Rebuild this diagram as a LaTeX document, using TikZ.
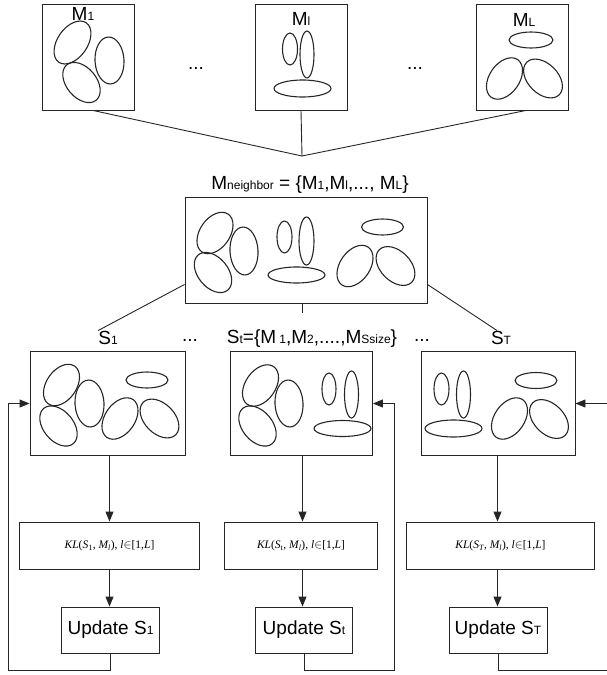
\documentclass[tikz,border=0pt]{standalone}
\usepackage{fontspec}
\setmainfont{Liberation Sans}
\newfontfamily\klfont{Liberation Serif}
\usetikzlibrary{arrows.meta,calc}
\newcommand{\sbs}[1]{{\fontsize{12}{12}\selectfont #1}}
\newcommand{\myell}[4]{\draw[ell] (#1) ellipse[x radius=#2pt, y radius=#3pt, rotate=#4];}
\newcommand{\kltext}[1]{{\itshape KL}({\itshape S}\textsubscript{#1}, {\itshape M}\textsubscript{\itshape l}), {\itshape l}$\in$[1,{\itshape L}]}
\begin{document}
\begin{tikzpicture}[x=1pt,y=-1pt,
  box/.style={draw=black!85, line width=0.9pt, inner sep=0pt},
  ell/.style={draw=black!85, line width=1.1pt},
  lbl/.style={font=\fontsize{19}{19}\selectfont, inner sep=0pt},
  conn/.style={draw=black!85, line width=0.9pt},
  arr/.style={conn, -{Triangle[length=10pt,width=8pt]}},
  kl/.style={box, font=\klfont\fontsize{11.5}{12}\selectfont},
  upd/.style={box, font=\fontsize{19}{19}\selectfont},
]
\useasboundingbox (0,0) rectangle (607,675);

% top model boxes
\node[box, minimum width=92pt, minimum height=106pt] (m1) at (88,57) {};
\node[box, minimum width=92pt, minimum height=106pt] (ml) at (301,57) {};
\node[box, minimum width=92pt, minimum height=106pt] (mL) at (522,57) {};
\node[lbl, anchor=base] (m1lab) at (83,20) {M\sbs{1}};
\node[lbl, anchor=base] (mllab) at (301,25) {M\sbs{l}};
\node[lbl, anchor=base] (mLlab) at (524,26) {M\sbs{L}};
\node[lbl] (dots1) at (196,68) {...};
\node[lbl] (dots2) at (415,68) {...};

\myell{72.5,42.5}{24}{15}{55}
\myell{81.5,82.5}{23}{15}{-50}
\myell{109.5,60.5}{23.5}{14.5}{93}
\myell{290,49}{16}{7.5}{90}
\myell{307,54.5}{23.5}{7}{90}
\myell{302.5,88.5}{28.5}{8.5}{0}
\myell{531,40}{22}{8}{0}
\myell{504.5,78.5}{23}{15}{55}
\myell{543,78.5}{23}{15}{-45}

\coordinate (join) at (302,156);
\draw[conn] ($(m1.south)+(5,0)$) -- (join);
\draw[conn] (ml.south) -- (join);
\draw[conn] ($(mL.south)+(4,0)$) -- (join);

% neighbor set
\node[lbl, anchor=base] (nblab) at (310,189) {M\sbs{neighbor} = \{M\sbs{1},M\sbs{l},..., M\sbs{L}\}};
\node[box, minimum width=242pt, minimum height=106pt] (nb) at (306,250) {};
\myell{215,233}{23}{15}{55}
\myell{213,272.5}{23}{15}{-50}
\myell{244,251}{24}{14}{93}
\myell{284.5,237}{16}{7.5}{90}
\myell{306.5,241}{24}{7.5}{90}
\myell{296.5,275}{28.5}{8}{0}
\myell{382.5,227}{21}{8}{0}
\myell{355,266}{23}{15}{55}
\myell{395.5,266}{23}{15}{-45}

% S labels
\node[lbl, anchor=base] (s1lab) at (108,344) {S\sbs{1}};
\node[lbl, anchor=base] (stlab) at (312,343) {S\sbs{t}=\{M\,\sbs{1},M\sbs{2},....,M\sbs{Ssize}\}};
\node[lbl, anchor=base] (sTlab) at (501,344) {S\sbs{T}};
\node[lbl] (dots3) at (190,340) {...};
\node[lbl] (dots4) at (422,340) {...};

\draw[conn] ($(nb.south west)+(0,-19)$) -- (s1lab.north west);
\draw[conn] ($(nb.south east)+(0,-19)$) -- ($(sTlab.north)+(-4,0)$);
\coordinate (stub) at (302,313);
\draw[conn] (nb.south -| stub) -- (stub);

% S boxes
\node[box, minimum width=155pt, minimum height=104pt] (s1) at (107.5,403.5) {};
\node[box, minimum width=142pt, minimum height=104pt] (st) at (301.5,403.5) {};
\node[box, minimum width=154pt, minimum height=104pt] (sT) at (498,403.5) {};

\myell{61.5,385}{23}{15}{55}
\myell{58.5,426}{23}{15}{-50}
\myell{89.5,403.5}{23.5}{14.5}{93}
\myell{120,418.5}{23}{15}{55}
\myell{159.5,418.5}{23}{15}{-45}
\myell{147,380}{21}{8}{0}

\myell{260.5,385.5}{23}{15}{55}
\myell{257.5,426}{23}{15}{-50}
\myell{289,403.5}{23.5}{14}{93}
\myell{329,389}{16}{7}{90}
\myell{351.5,394.5}{23.5}{7}{90}
\myell{342.5,428.5}{28.5}{8}{0}

\myell{441.5,389}{16}{7.5}{90}
\myell{463.5,394.5}{23.5}{7}{90}
\myell{453.5,428.5}{28.5}{8.5}{0}
\myell{536,380.5}{21}{8}{0}
\myell{509.5,418.5}{23}{15}{55}
\myell{549,419}{23}{15}{-45}

% KL boxes
\node[kl, minimum width=180pt, minimum height=47pt] (k1) at (109.5,545.5) {\kltext{1}};
\node[kl, minimum width=153pt, minimum height=47pt] (k2) at (301,545.5) {\kltext{t}};
\node[kl, minimum width=188pt, minimum height=47pt] (k3) at (500.5,545.5) {\kltext{\itshape T}};

% update boxes
\node[upd, minimum width=98pt, minimum height=46pt] (u1) at (110.5,630) {Update S\sbs{1}};
\node[upd, minimum width=97pt, minimum height=46pt] (u2) at (304,630) {Update S\sbs{t}};
\node[upd, minimum width=98pt, minimum height=46pt] (u3) at (498,630) {Update S\sbs{T}};

% vertical arrows
\draw[arr] (k1.north |- s1.south) -- (k1.north);
\draw[arr] (k1.south) -- (u1.north -| k1.south);
\draw[arr] (st.south -| 302.5,0) -- (k2.north -| 302.5,0);
\draw[arr] (k2.south -| 302.5,0) -- (u2.north -| 302.5,0);
\draw[arr] (sT.south -| 497.5,0) -- (k3.north -| 497.5,0);
\draw[arr] (k3.south -| 497.5,0) -- (u3.north -| 497.5,0);

% feedback loops
\coordinate (l1) at (8.5,670);
\coordinate (l2) at (394,670);
\coordinate (l3) at (608,670);
\coordinate (r3) at (608,405);
\draw[arr] (u1.south) |- (l1) |- (s1.west);
\draw[arr] (u2.south) |- (l2) |- (st.east);
\draw[conn] (u3.south) |- (l3);
\draw[arr] (r3 |- sT.east) -- (sT.east);
\end{tikzpicture}
\end{document}
